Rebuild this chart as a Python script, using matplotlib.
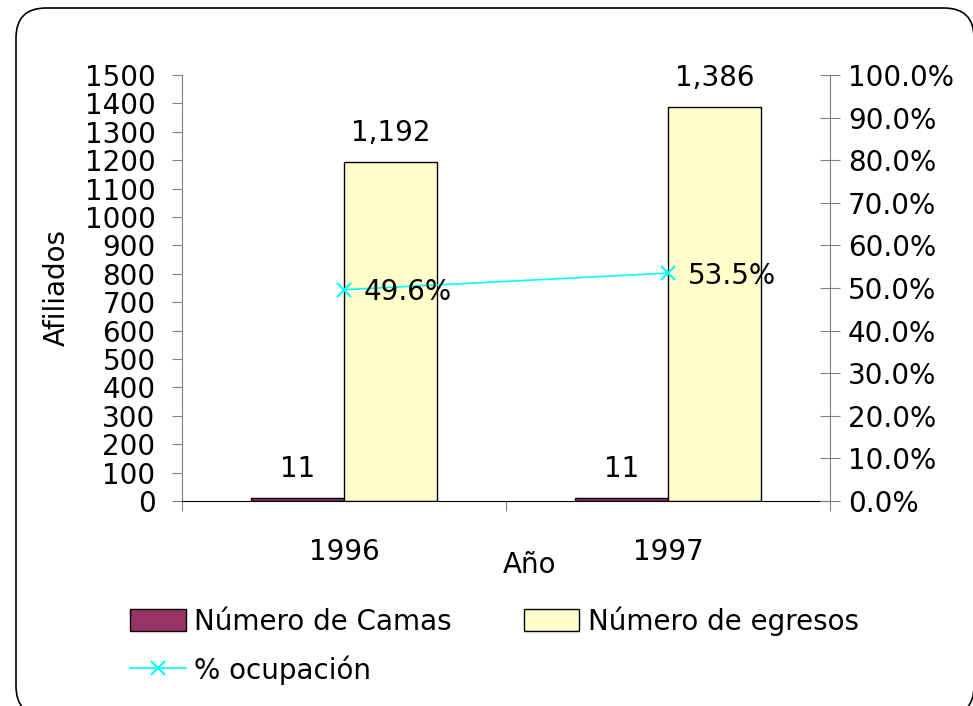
import numpy as np
import matplotlib.pyplot as plt
from matplotlib.patches import FancyBboxPatch
from matplotlib.transforms import IdentityTransform
from matplotlib.ticker import FuncFormatter, FixedLocator

plt.rcParams['font.family'] = ['DejaVu Sans']

years = ['1996', '1997']
camas = [11, 11]
egresos = [1192, 1386]
ocupacion = [0.496, 0.535]

fs = 20
fig = plt.figure(figsize=(9.73, 7.06), dpi=100)

# rounded frame around the whole chart (pixel coords, partly cut by the image edge)
frame = FancyBboxPatch((16, -10), 958, 708, boxstyle="round,pad=0,rounding_size=30",
                       transform=IdentityTransform(), facecolor='none', edgecolor='black', linewidth=1.2)
fig.patches.append(frame)

ax = fig.add_axes([182 / 973, 1 - 501 / 706, 648 / 973, 426 / 706])
x = np.arange(len(years))
w = 0.287

b1 = ax.bar(x - w / 2, camas, w, color='#993366', edgecolor='black', linewidth=1, label='Número de Camas')
b2 = ax.bar(x + w / 2, egresos, w, color='#FFFFCC', edgecolor='black', linewidth=1, label='Número de egresos')

for rect, v in zip(list(b1) + list(b2), camas + egresos):
    ax.annotate(f'{v:,}', (rect.get_x() + rect.get_width() / 2, v), xytext=(0, 11),
                textcoords='offset points', ha='center', va='bottom', fontsize=fs)

ax.set_xlim(-0.5, 1.5)
ax.set_ylim(0, 1500)
ax.set_yticks(np.arange(0, 1501, 100))
ax.tick_params(axis='y', labelsize=fs, length=7, color='#808080', pad=12)
ax.xaxis.set_major_locator(FixedLocator([-0.5, 0.5, 1.5]))
ax.set_xticklabels([])
ax.xaxis.set_minor_locator(FixedLocator(list(x)))
ax.set_xticklabels(years, minor=True)
ax.tick_params(axis='x', which='major', length=7, color='#808080')
ax.tick_params(axis='x', which='minor', length=0, labelsize=fs, pad=27)
ax.set_ylabel('Afiliados', fontsize=fs, labelpad=10)
for s in ['top', 'right']:
    ax.spines[s].set_visible(False)
ax.spines['left'].set_color('#808080')
ax.spines['bottom'].set_color('black')

ax2 = ax.twinx()
ln, = ax2.plot(x, ocupacion, color='#00FFFF', marker='x', markersize=10, markeredgewidth=1.5,
               linewidth=1.2, label='% ocupación')
for xi, v in zip(x, ocupacion):
    ax2.annotate(f'{v:.1%}', (xi, v), xytext=(14, -2), textcoords='offset points',
                 ha='left', va='center', fontsize=fs)
ax2.set_ylim(0, 1)
ax2.set_yticks(np.arange(0, 1.01, 0.1))
ax2.yaxis.set_major_formatter(FuncFormatter(lambda v, p: f'{v * 100:.1f}%'))
ax2.tick_params(axis='y', labelsize=fs, direction='inout', length=14, color='#808080', pad=6)
for s in ['top', 'left', 'bottom']:
    ax2.spines[s].set_visible(False)
ax2.spines['right'].set_color('#808080')

fig.text(530 / 973, 1 - 565 / 706, 'Año', ha='center', va='center', fontsize=fs)

fig.legend([b1, ln, b2], ['Número de Camas', '% ocupación', 'Número de egresos'], ncol=2,
           loc='upper left', bbox_to_anchor=(119 / 973, 1 - 595 / 706), frameon=False,
           fontsize=fs, handlelength=2.0, handleheight=0.8, handletextpad=0.3,
           columnspacing=2.6, labelspacing=0.7, borderaxespad=0)

fig.savefig('out.png', dpi=100)
